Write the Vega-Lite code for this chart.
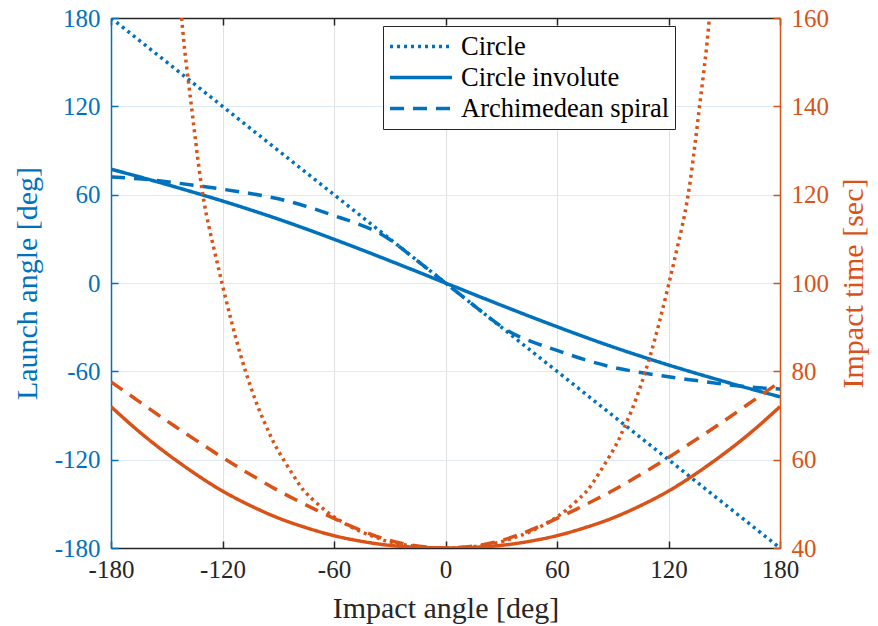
{
  "$schema": "https://vega.github.io/schema/vega-lite/v6.json",
  "width": 669,
  "height": 530,
  "autosize": {"type": "none"},
  "padding": {"left": 111, "top": 18, "right": 98, "bottom": 78},
  "config": {
    "font": "Liberation Serif",
    "view": {"stroke": null},
    "axis": {
      "labelFont": "Liberation Serif",
      "titleFont": "Liberation Serif",
      "labelFontSize": 25,
      "titleFontSize": 30,
      "titleFontWeight": "normal",
      "tickSize": -7,
      "tickWidth": 1.5,
      "domainWidth": 1.5,
      "gridWidth": 1,
      "labelFlush": false
    }
  },
  "datasets": {
    "launch": [
      {"curve": "Circle", "impact": -180, "launch": 180},
      {"curve": "Circle", "impact": -90, "launch": 90},
      {"curve": "Circle", "impact": 0, "launch": 0},
      {"curve": "Circle", "impact": 90, "launch": -90},
      {"curve": "Circle", "impact": 180, "launch": -180},
      {"curve": "Circle involute", "impact": -180, "launch": 77.3},
      {"curve": "Circle involute", "impact": -165, "launch": 72.2},
      {"curve": "Circle involute", "impact": -150, "launch": 66.9},
      {"curve": "Circle involute", "impact": -135, "launch": 61.4},
      {"curve": "Circle involute", "impact": -120, "launch": 55.7},
      {"curve": "Circle involute", "impact": -105, "launch": 49.7},
      {"curve": "Circle involute", "impact": -90, "launch": 43.4},
      {"curve": "Circle involute", "impact": -75, "launch": 36.7},
      {"curve": "Circle involute", "impact": -60, "launch": 29.7},
      {"curve": "Circle involute", "impact": -45, "launch": 22.5},
      {"curve": "Circle involute", "impact": -30, "launch": 15.1},
      {"curve": "Circle involute", "impact": -15, "launch": 7.6},
      {"curve": "Circle involute", "impact": 0, "launch": 0},
      {"curve": "Circle involute", "impact": 15, "launch": -7.6},
      {"curve": "Circle involute", "impact": 30, "launch": -15.1},
      {"curve": "Circle involute", "impact": 45, "launch": -22.5},
      {"curve": "Circle involute", "impact": 60, "launch": -29.7},
      {"curve": "Circle involute", "impact": 75, "launch": -36.7},
      {"curve": "Circle involute", "impact": 90, "launch": -43.4},
      {"curve": "Circle involute", "impact": 105, "launch": -49.7},
      {"curve": "Circle involute", "impact": 120, "launch": -55.7},
      {"curve": "Circle involute", "impact": 135, "launch": -61.4},
      {"curve": "Circle involute", "impact": 150, "launch": -66.9},
      {"curve": "Circle involute", "impact": 165, "launch": -72.2},
      {"curve": "Circle involute", "impact": 180, "launch": -77.3},
      {"curve": "Archimedean spiral", "impact": -180, "launch": 72},
      {"curve": "Archimedean spiral", "impact": -165, "launch": 70.8},
      {"curve": "Archimedean spiral", "impact": -150, "launch": 68.8},
      {"curve": "Archimedean spiral", "impact": -135, "launch": 66.3},
      {"curve": "Archimedean spiral", "impact": -120, "launch": 63.7},
      {"curve": "Archimedean spiral", "impact": -105, "launch": 60.8},
      {"curve": "Archimedean spiral", "impact": -90, "launch": 57.2},
      {"curve": "Archimedean spiral", "impact": -75, "launch": 52.1},
      {"curve": "Archimedean spiral", "impact": -60, "launch": 45.8},
      {"curve": "Archimedean spiral", "impact": -50, "launch": 41.5},
      {"curve": "Archimedean spiral", "impact": -40, "launch": 36.6},
      {"curve": "Archimedean spiral", "impact": -35, "launch": 33.5},
      {"curve": "Archimedean spiral", "impact": -30, "launch": 29.5},
      {"curve": "Archimedean spiral", "impact": -25, "launch": 24.9},
      {"curve": "Archimedean spiral", "impact": -20, "launch": 19.95},
      {"curve": "Archimedean spiral", "impact": -10, "launch": 10},
      {"curve": "Archimedean spiral", "impact": 0, "launch": 0},
      {"curve": "Archimedean spiral", "impact": 10, "launch": -10},
      {"curve": "Archimedean spiral", "impact": 20, "launch": -19.95},
      {"curve": "Archimedean spiral", "impact": 25, "launch": -24.9},
      {"curve": "Archimedean spiral", "impact": 30, "launch": -29.5},
      {"curve": "Archimedean spiral", "impact": 35, "launch": -33.5},
      {"curve": "Archimedean spiral", "impact": 40, "launch": -36.6},
      {"curve": "Archimedean spiral", "impact": 50, "launch": -41.5},
      {"curve": "Archimedean spiral", "impact": 60, "launch": -45.8},
      {"curve": "Archimedean spiral", "impact": 75, "launch": -52.1},
      {"curve": "Archimedean spiral", "impact": 90, "launch": -57.2},
      {"curve": "Archimedean spiral", "impact": 105, "launch": -60.8},
      {"curve": "Archimedean spiral", "impact": 120, "launch": -63.7},
      {"curve": "Archimedean spiral", "impact": 135, "launch": -66.3},
      {"curve": "Archimedean spiral", "impact": 150, "launch": -68.8},
      {"curve": "Archimedean spiral", "impact": 165, "launch": -70.8},
      {"curve": "Archimedean spiral", "impact": 180, "launch": -72}
    ],
    "time": [
      {"curve": "Circle", "impact": -142, "time": 160},
      {"curve": "Circle", "impact": -140, "time": 151.5},
      {"curve": "Circle", "impact": -137, "time": 141},
      {"curve": "Circle", "impact": -134, "time": 130.5},
      {"curve": "Circle", "impact": -130, "time": 118.5},
      {"curve": "Circle", "impact": -125, "time": 108.5},
      {"curve": "Circle", "impact": -120, "time": 99.5},
      {"curve": "Circle", "impact": -115, "time": 91},
      {"curve": "Circle", "impact": -110, "time": 83.3},
      {"curve": "Circle", "impact": -105, "time": 76.7},
      {"curve": "Circle", "impact": -100, "time": 71},
      {"curve": "Circle", "impact": -95, "time": 66.2},
      {"curve": "Circle", "impact": -90, "time": 62},
      {"curve": "Circle", "impact": -80, "time": 55.2},
      {"curve": "Circle", "impact": -74, "time": 52},
      {"curve": "Circle", "impact": -65, "time": 48.6},
      {"curve": "Circle", "impact": -56, "time": 46},
      {"curve": "Circle", "impact": -45, "time": 43.6},
      {"curve": "Circle", "impact": -36, "time": 42.2},
      {"curve": "Circle", "impact": -30, "time": 41.4},
      {"curve": "Circle", "impact": -15, "time": 40.3},
      {"curve": "Circle", "impact": 0, "time": 40},
      {"curve": "Circle", "impact": 15, "time": 40.3},
      {"curve": "Circle", "impact": 30, "time": 41.4},
      {"curve": "Circle", "impact": 36, "time": 42.2},
      {"curve": "Circle", "impact": 45, "time": 43.6},
      {"curve": "Circle", "impact": 56, "time": 46},
      {"curve": "Circle", "impact": 65, "time": 48.6},
      {"curve": "Circle", "impact": 74, "time": 52},
      {"curve": "Circle", "impact": 80, "time": 55.2},
      {"curve": "Circle", "impact": 90, "time": 62},
      {"curve": "Circle", "impact": 95, "time": 66.2},
      {"curve": "Circle", "impact": 100, "time": 71},
      {"curve": "Circle", "impact": 105, "time": 76.7},
      {"curve": "Circle", "impact": 110, "time": 83.3},
      {"curve": "Circle", "impact": 115, "time": 91},
      {"curve": "Circle", "impact": 120, "time": 99.5},
      {"curve": "Circle", "impact": 125, "time": 108.5},
      {"curve": "Circle", "impact": 130, "time": 118.5},
      {"curve": "Circle", "impact": 134, "time": 130.5},
      {"curve": "Circle", "impact": 137, "time": 141},
      {"curve": "Circle", "impact": 140, "time": 151.5},
      {"curve": "Circle", "impact": 142, "time": 160},
      {"curve": "Circle involute", "impact": -180, "time": 72},
      {"curve": "Circle involute", "impact": -165, "time": 66.4},
      {"curve": "Circle involute", "impact": -150, "time": 61.4},
      {"curve": "Circle involute", "impact": -135, "time": 56.9},
      {"curve": "Circle involute", "impact": -120, "time": 52.9},
      {"curve": "Circle involute", "impact": -105, "time": 49.6},
      {"curve": "Circle involute", "impact": -90, "time": 46.8},
      {"curve": "Circle involute", "impact": -75, "time": 44.6},
      {"curve": "Circle involute", "impact": -60, "time": 42.8},
      {"curve": "Circle involute", "impact": -45, "time": 41.5},
      {"curve": "Circle involute", "impact": -30, "time": 40.6},
      {"curve": "Circle involute", "impact": -15, "time": 40.15},
      {"curve": "Circle involute", "impact": 0, "time": 40},
      {"curve": "Circle involute", "impact": 15, "time": 40.15},
      {"curve": "Circle involute", "impact": 30, "time": 40.6},
      {"curve": "Circle involute", "impact": 45, "time": 41.5},
      {"curve": "Circle involute", "impact": 60, "time": 42.8},
      {"curve": "Circle involute", "impact": 75, "time": 44.6},
      {"curve": "Circle involute", "impact": 90, "time": 46.8},
      {"curve": "Circle involute", "impact": 105, "time": 49.6},
      {"curve": "Circle involute", "impact": 120, "time": 52.9},
      {"curve": "Circle involute", "impact": 135, "time": 56.9},
      {"curve": "Circle involute", "impact": 150, "time": 61.4},
      {"curve": "Circle involute", "impact": 165, "time": 66.4},
      {"curve": "Circle involute", "impact": 180, "time": 72},
      {"curve": "Archimedean spiral", "impact": -180, "time": 77.6},
      {"curve": "Archimedean spiral", "impact": -165, "time": 73.2},
      {"curve": "Archimedean spiral", "impact": -150, "time": 68.8},
      {"curve": "Archimedean spiral", "impact": -135, "time": 64.6},
      {"curve": "Archimedean spiral", "impact": -120, "time": 60.5},
      {"curve": "Archimedean spiral", "impact": -110, "time": 57.9},
      {"curve": "Archimedean spiral", "impact": -100, "time": 55.4},
      {"curve": "Archimedean spiral", "impact": -90, "time": 53},
      {"curve": "Archimedean spiral", "impact": -80, "time": 50.8},
      {"curve": "Archimedean spiral", "impact": -70, "time": 48.7},
      {"curve": "Archimedean spiral", "impact": -60, "time": 46.7},
      {"curve": "Archimedean spiral", "impact": -50, "time": 44.8},
      {"curve": "Archimedean spiral", "impact": -40, "time": 43.1},
      {"curve": "Archimedean spiral", "impact": -30, "time": 41.7},
      {"curve": "Archimedean spiral", "impact": -20, "time": 40.75},
      {"curve": "Archimedean spiral", "impact": -10, "time": 40.2},
      {"curve": "Archimedean spiral", "impact": 0, "time": 40},
      {"curve": "Archimedean spiral", "impact": 10, "time": 40.2},
      {"curve": "Archimedean spiral", "impact": 20, "time": 40.75},
      {"curve": "Archimedean spiral", "impact": 30, "time": 41.7},
      {"curve": "Archimedean spiral", "impact": 40, "time": 43.1},
      {"curve": "Archimedean spiral", "impact": 50, "time": 44.8},
      {"curve": "Archimedean spiral", "impact": 60, "time": 46.7},
      {"curve": "Archimedean spiral", "impact": 70, "time": 48.7},
      {"curve": "Archimedean spiral", "impact": 80, "time": 50.8},
      {"curve": "Archimedean spiral", "impact": 90, "time": 53},
      {"curve": "Archimedean spiral", "impact": 100, "time": 55.4},
      {"curve": "Archimedean spiral", "impact": 110, "time": 57.9},
      {"curve": "Archimedean spiral", "impact": 120, "time": 60.5},
      {"curve": "Archimedean spiral", "impact": 135, "time": 64.6},
      {"curve": "Archimedean spiral", "impact": 150, "time": 68.8},
      {"curve": "Archimedean spiral", "impact": 165, "time": 73.2},
      {"curve": "Archimedean spiral", "impact": 180, "time": 77.6}
    ]
  },
  "layer": [
    {
      "data": {"name": "launch"},
      "mark": {"type": "line", "color": "#0072BD", "strokeWidth": 3.5, "interpolate": "natural", "clip": true, "strokeCap": "butt"},
      "encoding": {
        "x": {
          "field": "impact", "type": "quantitative",
          "scale": {"domain": [-180, 180], "nice": false, "zero": false},
          "axis": {
            "orient": "bottom",
            "values": [-180, -120, -60, 0, 60, 120, 180],
            "labelExpr": "'' + datum.value",
            "title": "Impact angle [deg]",
            "grid": true, "gridColor": "#e1e1e1",
            "domainColor": "#262626", "tickColor": "#262626",
            "labelColor": "#262626", "titleColor": "#262626",
            "labelPadding": 16, "titlePadding": 11
          }
        },
        "y": {
          "field": "launch", "type": "quantitative",
          "scale": {"domain": [-180, 180], "nice": false, "zero": false},
          "axis": {
            "orient": "left",
            "values": [-180, -120, -60, 0, 60, 120, 180],
            "labelExpr": "'' + datum.value",
            "title": "Launch angle [deg]",
            "grid": true, "gridColor": "#dde9f5",
            "domainColor": "#0072BD", "tickColor": "#0072BD",
            "labelColor": "#0072BD", "titleColor": "#0072BD",
            "labelPadding": 18, "titlePadding": 12
          }
        },
        "strokeDash": {
          "field": "curve", "type": "nominal",
          "scale": {"domain": ["Circle", "Circle involute", "Archimedean spiral"], "range": [[3, 4], [1, 0], [14, 9]]},
          "legend": {
            "orient": "none", "legendX": 272, "legendY": 8,
            "title": null, "symbolType": "stroke", "symbolSize": 3844,
            "symbolStrokeWidth": 3.5, "symbolStrokeColor": "#0072BD",
            "labelFont": "Liberation Serif", "labelFontSize": 26.5, "labelColor": "#000000", "labelLimit": 500,
            "fillColor": "#ffffff", "strokeColor": "#262626", "padding": 5, "labelOffset": 7, "rowPadding": 0, "clipHeight": 31
          }
        }
      }
    },
    {
      "data": {"name": "time"},
      "mark": {"type": "line", "color": "#D95319", "strokeWidth": 3.5, "interpolate": "natural", "clip": true, "strokeCap": "butt"},
      "encoding": {
        "x": {
          "field": "impact", "type": "quantitative",
          "axis": {
            "orient": "top",
            "values": [-180, -120, -60, 0, 60, 120, 180],
            "labels": false, "title": null, "grid": false,
            "domainColor": "#262626", "tickColor": "#262626"
          }
        },
        "y": {
          "field": "time", "type": "quantitative",
          "scale": {"domain": [40, 160], "nice": false, "zero": false},
          "axis": {
            "orient": "right",
            "values": [40, 60, 80, 100, 120, 140, 160],
            "title": "Impact time [sec]", "titleAngle": 270, "titleBaseline": "top",
            "grid": false,
            "domainColor": "#D95319", "tickColor": "#D95319",
            "labelColor": "#D95319", "titleColor": "#D95319",
            "labelPadding": 18, "titlePadding": 10
          }
        },
        "strokeDash": {
          "field": "curve", "type": "nominal",
          "legend": {
            "orient": "none", "legendX": 272, "legendY": 8,
            "title": null, "symbolType": "stroke", "symbolSize": 3844,
            "symbolStrokeWidth": 3.5, "symbolStrokeColor": "#0072BD",
            "labelFont": "Liberation Serif", "labelFontSize": 26.5, "labelColor": "#000000", "labelLimit": 500,
            "fillColor": "#ffffff", "strokeColor": "#262626", "padding": 5, "labelOffset": 7, "rowPadding": 0, "clipHeight": 31
          }
        }
      }
    }
  ],
  "resolve": {"scale": {"y": "independent"}, "axis": {"x": "independent", "y": "independent"}}
}
